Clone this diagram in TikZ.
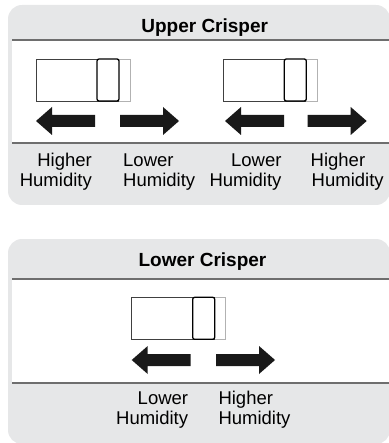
\documentclass[tikz,border=0pt]{standalone}
\usepackage{fontspec}
\setmainfont{Liberation Sans}
\definecolor{panelgray}{HTML}{E6E7E8}
\definecolor{linegray}{HTML}{6E6E6E}
\begin{document}
\begin{tikzpicture}[x=1pt,y=-1pt,
  panel/.style={fill=panelgray,draw=none,rounded corners=14pt},
  band/.style={fill=white,draw=none},
  bandline/.style={draw=linegray,line width=1.2pt},
  title/.style={font=\fontsize{19}{20}\selectfont\bfseries,inner sep=0pt,anchor=base},
  lblr/.style={font=\fontsize{18.5}{20}\selectfont,inner sep=0pt,anchor=base east},
  lbll/.style={font=\fontsize{18.5}{20}\selectfont,inner sep=0pt,anchor=base west},
  arrowfill/.style={fill=black!90,draw=none},
  pics/larrow/.style={code={
    \fill[arrowfill] (0,0) -- (16,-14) -- (16,-6) -- (59,-6) -- (59,6) -- (16,6) -- (16,14) -- cycle;}},
  pics/rarrow/.style={code={
    \fill[arrowfill] (0,0) -- (-16,-14) -- (-16,-6) -- (-59,-6) -- (-59,6) -- (-16,6) -- (-16,14) -- cycle;}},
  pics/slider/.style={code={
    \draw[black!75,line width=0.8pt] (0,0) rectangle (94,42);
    \draw[black!30,line width=0.8pt] (83,0) -- (94,0) -- (94,42) -- (83,42);
    \draw[black,line width=1.3pt,rounded corners=2pt,fill=white] (61,0) rectangle (83,42);}}
]
\useasboundingbox (0,0) rectangle (388,443);
% ---------- Upper crisper ----------
\fill[panel] (8,5) rectangle (390,205);
\fill[band] (12,40) rectangle (392,143);
\draw[bandline] (12,40) -- (392,40);
\draw[bandline] (12,143) -- (392,143);
\node[title] (uptitle) at (204.7,32.7) {Upper Crisper};
\pic at (36,59) {slider};
\pic at (223.3,59) {slider};
\pic at (36,121) {larrow};
\pic at (179,121) {rarrow};
\pic at (225,121) {larrow};
\pic at (366.7,121) {rarrow};
\node[lblr] (u1a) at (92,166.5) {Higher};
\node[lblr] (u1b) at (92,186.5) {Humidity};
\node[lbll] (u2a) at (123,166.5) {Lower};
\node[lbll] (u2b) at (123,186.5) {Humidity};
\node[lblr] (u3a) at (281.7,166.5) {Lower};
\node[lblr] (u3b) at (281.7,186.5) {Humidity};
\node[lbll] (u4a) at (310.5,166.5) {Higher};
\node[lbll] (u4b) at (311.5,186.5) {Humidity};
% ---------- Lower crisper ----------
\fill[panel] (8,239) rectangle (390,444);
\fill[band] (12,279) rectangle (392,383);
\draw[bandline] (12,279) -- (392,279);
\draw[bandline] (12,383) -- (392,383);
\node[title] (lowtitle) at (202.5,266.7) {Lower Crisper};
\pic at (131.7,297.3) {slider};
\pic at (131.7,360) {larrow};
\pic at (275,360) {rarrow};
\node[lblr] (l1a) at (188.3,404.5) {Lower};
\node[lblr] (l1b) at (188.3,424.5) {Humidity};
\node[lbll] (l2a) at (218.3,404.5) {Higher};
\node[lbll] (l2b) at (218.3,424.5) {Humidity};
\end{tikzpicture}
\end{document}
